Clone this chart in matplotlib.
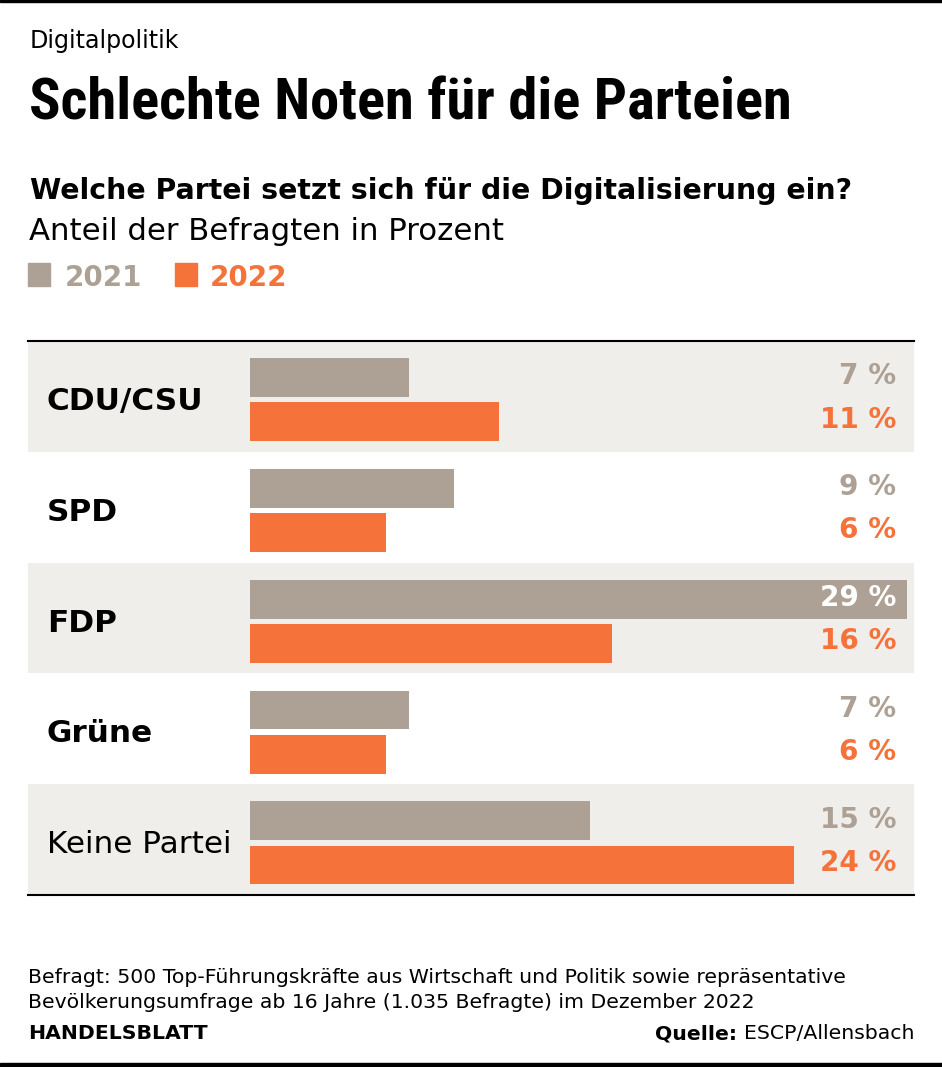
import matplotlib.pyplot as plt
from matplotlib.patches import Rectangle
import logging

logging.getLogger("matplotlib.font_manager").setLevel(logging.ERROR)

# Daten
parteien = ["CDU/CSU", "SPD", "FDP", "Grüne", "Keine Partei"]
werte_2021 = [7, 9, 29, 7, 15]
werte_2022 = [11, 6, 16, 6, 24]
fett = [True, True, True, True, False]

grau = "#ada195"
orange = "#f5733a"
band = "#f0eeeb"

W, H = 942, 1067
plt.rcParams["font.family"] = ["DejaVu Sans"]
fig = plt.figure(figsize=(W / 100, H / 100), dpi=100)
renderer = fig.canvas.get_renderer()


def fit(t, breite):
    # Schriftgroesse so anpassen, dass der Text die Zielbreite hat
    w = t.get_window_extent(renderer).width
    t.set_fontsize(t.get_fontsize() * breite / w)
    return t.get_fontsize()


# Hintergrund-Achse in Pixelkoordinaten
bg = fig.add_axes([0, 0, 1, 1])
bg.set_xlim(0, W)
bg.set_ylim(H, 0)
bg.axis("off")

# Rahmenlinien oben/unten
bg.add_patch(Rectangle((0, 0), W, 2, color="black"))
bg.add_patch(Rectangle((0, 1063), W, 4, color="black"))

# Kopf
fit(bg.text(30, 48, "Digitalpolitik", fontsize=17, va="baseline"), 150)
fit(bg.text(29, 119, "Schlechte Noten für die Parteien", fontsize=45, fontweight="heavy",
            family=["Liberation Sans Narrow", "Roboto Condensed", "Roboto"],
            va="baseline"), 762)
fit(bg.text(30, 199, "Welche Partei setzt sich für die Digitalisierung ein?", fontsize=19,
            fontweight="bold", va="baseline"), 821)
fit(bg.text(29, 240, "Anteil der Befragten in Prozent", fontsize=21, va="baseline"), 474)

# Legende
bg.add_patch(Rectangle((28, 263), 22, 23, color=grau))
gl = bg.text(65, 286, "2021", fontsize=22, fontweight="bold", color=grau, va="baseline")
gs = fit(gl, 77)
bg.add_patch(Rectangle((175, 263), 22, 23, color=orange))
bg.text(210, 286, "2022", fontsize=gs, fontweight="bold", color=orange, va="baseline")

# Zeilenbaender und Linien
top, bottom = 341, 895
zeile = (bottom - top) / len(parteien)
probe = bg.text(0, -100, "CDU/CSU", fontsize=20, fontweight="bold")
ks = fit(probe, 156)
probe.remove()
for i, (name, b) in enumerate(zip(parteien, fett)):
    y0 = top + i * zeile
    if i % 2 == 0:
        bg.add_patch(Rectangle((28, y0), 914 - 28, zeile, color=band, lw=0))
    bg.text(47, y0 + zeile / 2 + 5, name, fontsize=ks,
            fontweight="bold" if b else "normal", va="center")
bg.plot([28, 914], [top, top], color="black", lw=1.5)
bg.plot([28, 914], [bottom, bottom], color="black", lw=1.5)

# Balken-Achse
x0, x1 = 250, 914
skala = (907 - 250) / 29
ax = fig.add_axes([x0 / W, 1 - bottom / H, (x1 - x0) / W, (bottom - top) / H])
ax.set_xlim(0, (x1 - x0) / skala)
ax.set_ylim(len(parteien) - 0.5, -0.5)
ax.axis("off")
ax.patch.set_alpha(0)

pos = list(range(len(parteien)))
h = 0.35
d = 0.2
ax.barh([p - d + 0.03 for p in pos], werte_2021, height=h, color=grau, lw=0)
ax.barh([p + d + 0.03 for p in pos], werte_2022, height=h, color=orange, lw=0)

probe = bg.text(0, -100, "11 %", fontsize=20, fontweight="bold")
ws = fit(probe, 76)
probe.remove()
xl = (896 - x0) / skala
for p, a, b in zip(pos, werte_2021, werte_2022):
    ca = "white" if a > xl - 3 else grau
    ax.text(xl, p - d + 0.02, f"{a} %", ha="right", va="center", fontsize=ws,
            fontweight="bold", color=ca)
    ax.text(xl, p + d + 0.01, f"{b} %", ha="right", va="center", fontsize=ws,
            fontweight="bold", color=orange)

# Fusszeile
fs = fit(bg.text(28, 983, "Befragt: 500 Top-Führungskräfte aus Wirtschaft und Politik sowie repräsentative",
                 fontsize=14, va="baseline"), 820)
bg.text(28, 1008, "Bevölkerungsumfrage ab 16 Jahre (1.035 Befragte) im Dezember 2022",
        fontsize=fs, va="baseline")
bg.text(28, 1039, "HANDELSBLATT", fontsize=fs, fontweight="bold", va="baseline")
q = bg.text(914, 1039, "ESCP/Allensbach", fontsize=fs, ha="right", va="baseline")
qw = q.get_window_extent(renderer).width
bg.text(914 - qw - 6, 1039, "Quelle:", fontsize=fs, fontweight="bold", ha="right",
        va="baseline")

fig.savefig("out.png", dpi=100)
